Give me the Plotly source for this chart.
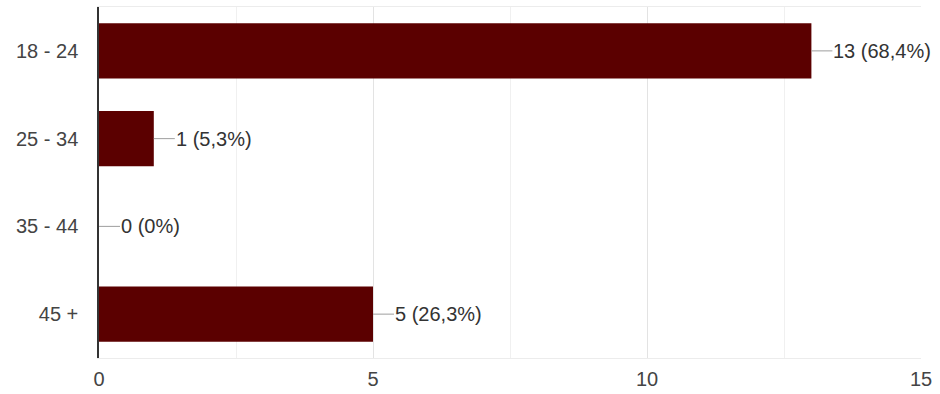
import plotly.graph_objects as go

categories = ["18 - 24", "25 - 34", "35 - 44", "45 +"]
counts = [13, 1, 0, 5]
x_ticks = [0, 5, 10, 15]

total = sum(counts)

def fmt(v):
    p = round(v / total * 100, 1)
    s = str(int(p)) if p == int(p) else f"{p:.1f}".replace(".", ",")
    return f"{v} ({s}%)"

bar_color = "#5b0000"
FONT = "Arial, 'Liberation Sans', sans-serif"

fig = go.Figure()
fig.add_trace(go.Bar(
    x=counts, y=categories, orientation="h",
    marker=dict(color=bar_color, line=dict(width=0)),
    hoverinfo="skip",
))

for c, v in zip(categories, counts):
    fig.add_annotation(
        x=v, y=c, xref="x", yref="y",
        text=fmt(v), showarrow=True, arrowhead=0, arrowwidth=1,
        arrowcolor="#9e9e9e", ax=21, ay=0, axref="pixel", ayref="pixel",
        xanchor="left", yanchor="middle", standoff=0, borderpad=0,
        font=dict(family=FONT, size=20, color="#333333"),
    )

fig.update_layout(
    width=940, height=394,
    margin=dict(l=99, r=19, t=7, b=36),
    paper_bgcolor="white", plot_bgcolor="white",
    showlegend=False, bargap=0.373,
    font=dict(family=FONT, size=20, color="#444444"),
    xaxis=dict(
        range=[0, 15], tickvals=x_ticks, showgrid=True,
        gridcolor="#e3e3e3", gridwidth=1,
        minor=dict(dtick=2.5, showgrid=True, gridcolor="#f0f0f0", gridwidth=1),
        zeroline=False, showline=True, mirror=True, linecolor="#ececec",
        linewidth=1, ticks="", ticklabelstandoff=3, automargin=False,
        tickfont=dict(family=FONT, size=20, color="#444444"),
    ),
    yaxis=dict(
        categoryorder="array", categoryarray=categories, autorange="reversed",
        showgrid=False, zeroline=False, showline=True, linecolor="#333333",
        linewidth=1.5, ticks="", ticklabelstandoff=15, automargin=False,
        tickfont=dict(family=FONT, size=20, color="#444444"),
    ),
)

fig.write_html("out.html")
